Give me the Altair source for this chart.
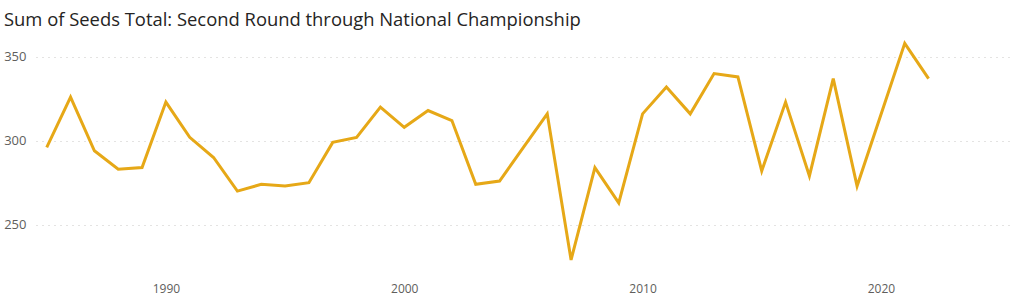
import altair as alt
import pandas as pd

years = [1985, 1986, 1987, 1988, 1989, 1990, 1991, 1992, 1993, 1994, 1995, 1996,
         1997, 1998, 1999, 2000, 2001, 2002, 2003, 2004, 2005, 2006, 2007, 2008,
         2009, 2010, 2011, 2012, 2013, 2014, 2015, 2016, 2017, 2018, 2019, 2021, 2022]
seeds = [296, 326, 294, 283, 284, 323, 302, 290, 270, 274, 273, 275,
         299, 302, 320, 308, 318, 312, 274, 276, 296, 316, 229, 284,
         263, 316, 332, 316, 340, 338, 282, 323, 279, 337, 273, 358, 337]

df = pd.DataFrame({"Year": years, "Seeds": seeds})

FONT = "Open Sans"

chart = alt.Chart(df).mark_line(color="#E6A817", strokeWidth=3, strokeJoin="miter").encode(
    x=alt.X("Year:Q",
            scale=alt.Scale(domain=[1984.55, 2025.5], nice=False, zero=False),
            axis=alt.Axis(title=None, values=[1990, 2000, 2010, 2020], format="d",
                          grid=False, ticks=False, domain=False, labelPadding=8,
                          labelFontSize=12, labelColor="#605E5C", labelFont=FONT)),
    y=alt.Y("Seeds:Q",
            scale=alt.Scale(domain=[220, 360], nice=False, zero=False),
            axis=alt.Axis(title=None, values=[250, 300, 350],
                          grid=True, gridColor="#C8C6C4", gridDash=[1, 5], gridWidth=1,
                          ticks=False, domain=False, labelPadding=10,
                          labelFontSize=13, labelColor="#605E5C", labelFont=FONT)),
).properties(
    width=976,
    height=235,
    padding={"left": 36, "top": 40, "right": 9, "bottom": 31},
    autosize=alt.AutoSizeParams(type="none"),
    title=alt.TitleParams(
        "Sum of Seeds Total: Second Round through National Championship",
        anchor="start", frame="group", dx=-32, dy=20, offset=13, baseline="alphabetic",
        fontSize=18.4, font=FONT, fontWeight="normal", color="#252423"),
).configure(background="white").configure_view(stroke=None)

chart.save("out.html", embed_options={"renderer": "svg", "actions": False})
